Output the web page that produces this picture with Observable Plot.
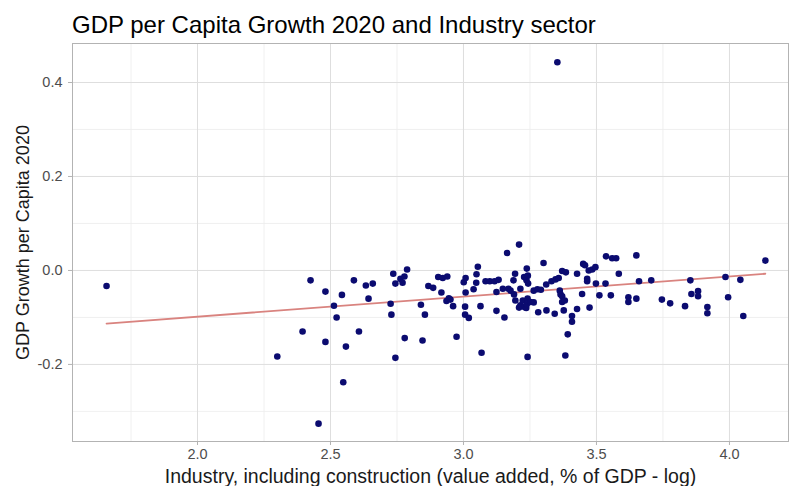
<!DOCTYPE html>
<html>
<head>
<meta charset="utf-8">
<script src="https://cdn.jsdelivr.net/npm/d3@7"></script>
<script src="https://cdn.jsdelivr.net/npm/@observablehq/plot@0.6"></script>
<style>
  html, body { margin: 0; padding: 0; background: #fff; }
  body { width: 790px; height: 486px; overflow: hidden; font-family: "Liberation Sans", Arial, sans-serif; }
  #title { position: relative; height: 40px; }
  #title span { position: absolute; left: 72px; top: 13px; font-size: 24px; line-height: 1; color: #000; white-space: nowrap; }
  #chart svg { display: block; }
</style>
</head>
<body>
<div id="title"><span>GDP per Capita Growth 2020 and Industry sector</span></div>
<div id="chart"></div>
<script>
const industryLog = [
  1.658, 2.300, 2.395, 2.425, 2.455, 2.481, 2.481, 2.513, 2.523, 2.543,
  2.548, 2.558, 2.588, 2.607, 2.633, 2.643, 2.659, 2.726, 2.729, 2.736,
  2.744, 2.744, 2.763, 2.771, 2.778, 2.779, 2.788, 2.840, 2.846, 2.855,
  2.868, 2.886, 2.905, 2.917, 2.922, 2.936, 2.939, 2.945, 2.951, 2.961,
  2.974, 3.001, 3.006, 3.006, 3.008, 3.008, 3.020, 3.038, 3.048, 3.049,
  3.054, 3.064, 3.068, 3.083, 3.099, 3.117, 3.124, 3.124, 3.132, 3.148,
  3.154, 3.164, 3.169, 3.177, 3.188, 3.190, 3.194, 3.195, 3.209, 3.209,
  3.214, 3.214, 3.223, 3.228, 3.229, 3.236, 3.237, 3.238, 3.238, 3.241,
  3.241, 3.242, 3.243, 3.252, 3.264, 3.264, 3.278, 3.281, 3.291, 3.301,
  3.311, 3.312, 3.331, 3.343, 3.346, 3.353, 3.358, 3.362, 3.365, 3.371,
  3.371, 3.371, 3.377, 3.381, 3.383, 3.385, 3.392, 3.408, 3.408, 3.427,
  3.427, 3.446, 3.450, 3.457, 3.465, 3.465, 3.471, 3.474, 3.484, 3.496,
  3.498, 3.511, 3.534, 3.536, 3.554, 3.559, 3.574, 3.584, 3.620, 3.620,
  3.650, 3.650, 3.660, 3.706, 3.746, 3.777, 3.833, 3.853, 3.857, 3.882,
  3.882, 3.917, 3.917, 3.985, 3.995, 4.041, 4.052, 4.135
];
const gdpGrowth = [
  -0.033, -0.183, -0.130, -0.021, -0.326, -0.045, -0.152, -0.075, -0.100, -0.052,
  -0.238, -0.162, -0.021, -0.130, -0.032, -0.060, -0.028, -0.071, -0.094, -0.007,
  -0.028, -0.186, -0.018, -0.026, -0.013, -0.144, 0.002, -0.073, -0.149, -0.094,
  -0.033, -0.037, -0.014, -0.047, -0.016, -0.065, -0.013, -0.059, -0.062, -0.076,
  -0.141, -0.025, -0.077, -0.094, -0.016, -0.047, -0.101, -0.040, -0.026, -0.008,
  0.008, -0.076, -0.175, -0.023, -0.023, -0.023, -0.046, -0.086, -0.020, -0.039,
  -0.100, 0.037, -0.039, -0.043, -0.021, -0.051, -0.007, -0.064, 0.055, -0.079,
  -0.039, -0.074, -0.064, -0.014, -0.078, -0.080, -0.021, 0.004, -0.072, -0.060,
  -0.184, -0.011, -0.028, -0.067, -0.043, -0.068, -0.040, -0.089, -0.041, 0.016,
  -0.030, -0.085, -0.023, -0.092, -0.019, 0.443, -0.016, -0.043, -0.051, -0.001,
  -0.055, -0.067, -0.085, -0.064, -0.181, -0.004, -0.136, -0.097, -0.109, -0.007,
  -0.082, -0.050, 0.014, 0.011, -0.018, -0.023, 0.000, -0.079, 0.002, 0.007,
  -0.028, -0.053, -0.028, 0.030, -0.053, 0.026, 0.026, -0.007, -0.057, -0.067,
  0.032, -0.060, -0.023, -0.021, -0.062, -0.070, -0.076, -0.021, -0.050, -0.044,
  -0.055, -0.078, -0.091, -0.014, -0.057, -0.020, -0.097, 0.021
];
// fitted regression line
const fitX = [1.658, 4.135];
const fitY = [-0.113, -0.007];

const xMajor = [2.0, 2.5, 3.0, 3.5, 4.0];
const xMinor = [1.75, 2.25, 2.75, 3.25, 3.75];
const yMajor = [-0.2, 0.0, 0.2, 0.4];
const yMinor = [-0.3, -0.1, 0.1, 0.3];
const xLabel = "Industry, including construction (value added, % of GDP - log)";
const yLabel = "GDP Growth per Capita 2020";

const points = industryLog.map((x, i) => ({x, y: gdpGrowth[i]}));
const fit = fitX.map((x, i) => ({x, y: fitY[i]}));
const fmt = d => d.toFixed(1);

const plot = Plot.plot({
  width: 790,
  height: 446,
  marginLeft: 72,
  marginRight: 2,
  marginTop: 3,
  marginBottom: 45,
  x: {domain: [1.530, 4.222]},
  y: {domain: [-0.364, 0.483]},
  style: {fontFamily: "'Liberation Sans', Arial, sans-serif", background: "#fff", overflow: "visible"},
  marks: [
    Plot.ruleX(xMinor, {stroke: "#ececec", strokeWidth: 0.8}),
    Plot.ruleY(yMinor, {stroke: "#ececec", strokeWidth: 0.8}),
    Plot.ruleX(xMajor, {stroke: "#dedede", strokeWidth: 1}),
    Plot.ruleY(yMajor, {stroke: "#dedede", strokeWidth: 1}),
    Plot.frame({stroke: "#b3b3b3", strokeWidth: 1}),
    Plot.axisX(xMajor, {tickSize: 4, tickPadding: 3, stroke: "#b3b3b3", color: "#4d4d4d", fontSize: 14.5, tickFormat: fmt, label: null}),
    Plot.axisY(yMajor, {tickSize: 4, tickPadding: 6, stroke: "#b3b3b3", color: "#4d4d4d", fontSize: 14.5, tickFormat: fmt, label: null}),
    Plot.text([xLabel], {frameAnchor: "bottom", textAnchor: "middle", lineAnchor: "middle", dy: 35, fontSize: 19.5, fill: "#1a1a1a"}),
    Plot.text([yLabel], {frameAnchor: "left", textAnchor: "middle", lineAnchor: "middle", rotate: -90, dx: -49, fontSize: 18, fill: "#1a1a1a"}),
    Plot.line(fit, {x: "x", y: "y", stroke: "#d9837f", strokeWidth: 1.8}),
    Plot.dot(points, {x: "x", y: "y", r: 3.3, fill: "#0b0b70", stroke: "none"})
  ]
});
document.getElementById("chart").appendChild(plot);
</script>
</body>
</html>
